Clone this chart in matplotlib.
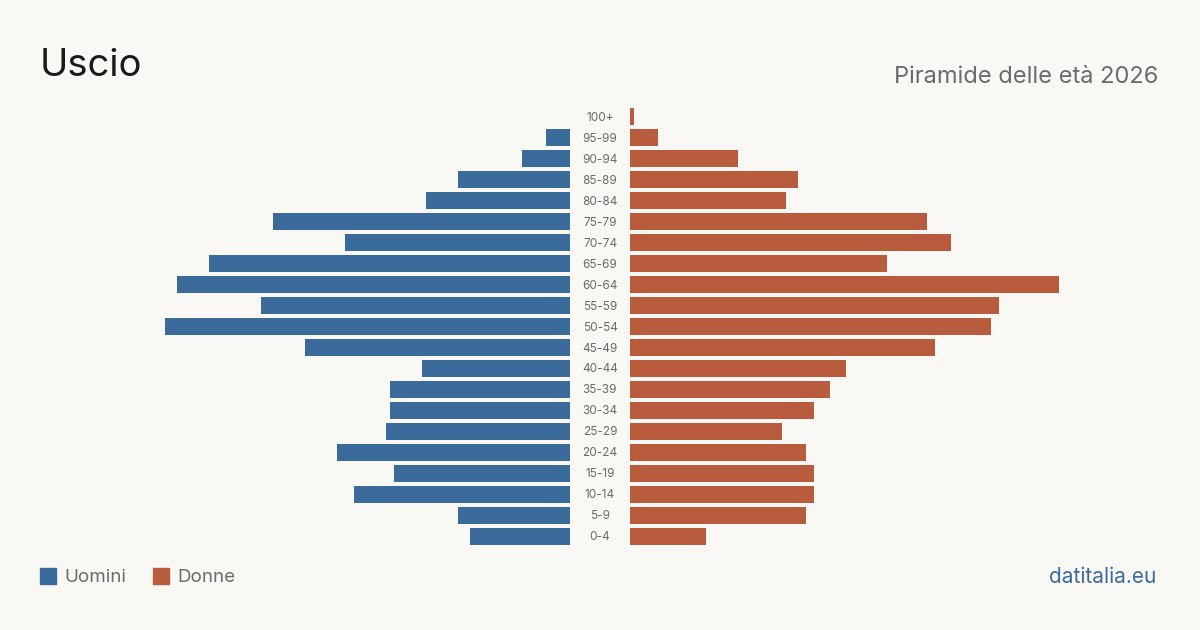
import matplotlib
matplotlib.use("Agg")
import matplotlib.pyplot as plt
from matplotlib.transforms import blended_transform_factory
from matplotlib.patches import Rectangle

plt.rcParams['font.family'] = ['Inter', 'DejaVu Sans']

age_groups = ["0-4", "5-9", "10-14", "15-19", "20-24", "25-29", "30-34", "35-39",
              "40-44", "45-49", "50-54", "55-59", "60-64", "65-69", "70-74", "75-79",
              "80-84", "85-89", "90-94", "95-99", "100+"]
men = [25, 28, 54, 44, 58, 46, 45, 45, 37, 66, 101, 77, 98, 90, 56, 74, 36, 28, 12, 6, 0]
women = [19, 44, 46, 46, 44, 38, 46, 50, 54, 76, 90, 92, 107, 64, 80, 74, 39, 42, 27, 7, 1]

BG = "#f9f8f4"
BLUE = "#3b6b9b"
ORANGE = "#b95c3d"
GRAY = "#6b6b6b"

W, H = 1200, 630
fig = plt.figure(figsize=(12, 6.3), dpi=100, facecolor=BG)

xmax = 132.2
top_px, bot_px = 106.5, 546.5
ax_b = (H - bot_px) / H
ax_h = (bot_px - top_px) / H

axL = fig.add_axes([40 / W, ax_b, 530 / W, ax_h])
axR = fig.add_axes([630 / W, ax_b, 530 / W, ax_h])
y = list(range(len(age_groups)))
axL.barh(y, men, height=0.81, color=BLUE)
axR.barh(y, women, height=0.81, color=ORANGE)
axL.set_xlim(xmax, 0)
axR.set_xlim(0, xmax)
for ax in (axL, axR):
    ax.set_ylim(-0.5, len(age_groups) - 0.5)
    ax.axis('off')
    ax.set_facecolor('none')

tr = blended_transform_factory(fig.transFigure, axR.transData)
for i, lab in enumerate(age_groups):
    fig.text(600 / W, i - 0.05, lab, transform=tr, ha='center', va='center',
             fontsize=8.5, color=GRAY)

fig.text(40 / W, 1 - 66 / H, "Uscio", fontsize=27.5, color="#1a1a1a",
         ha='left', va='center')
fig.text(1158 / W, 1 - 77 / H, "Piramide delle età 2026", fontsize=17,
         color=GRAY, ha='right', va='center')

# legend
fig.patches.append(Rectangle((40 / W, 1 - 584 / H), 16 / W, 16 / H,
                             transform=fig.transFigure, color=BLUE))
fig.text(64 / W, 1 - 577 / H, "Uomini", fontsize=13.5, color=GRAY, ha='left', va='center')
fig.patches.append(Rectangle((153 / W, 1 - 584 / H), 16 / W, 16 / H,
                             transform=fig.transFigure, color=ORANGE))
fig.text(177 / W, 1 - 577 / H, "Donne", fontsize=13.5, color=GRAY, ha='left', va='center')

fig.text(1156 / W, 1 - 577 / H, "datitalia.eu", fontsize=15, color=BLUE,
         ha='right', va='center')

fig.savefig("out.png", dpi=100, facecolor=BG)
